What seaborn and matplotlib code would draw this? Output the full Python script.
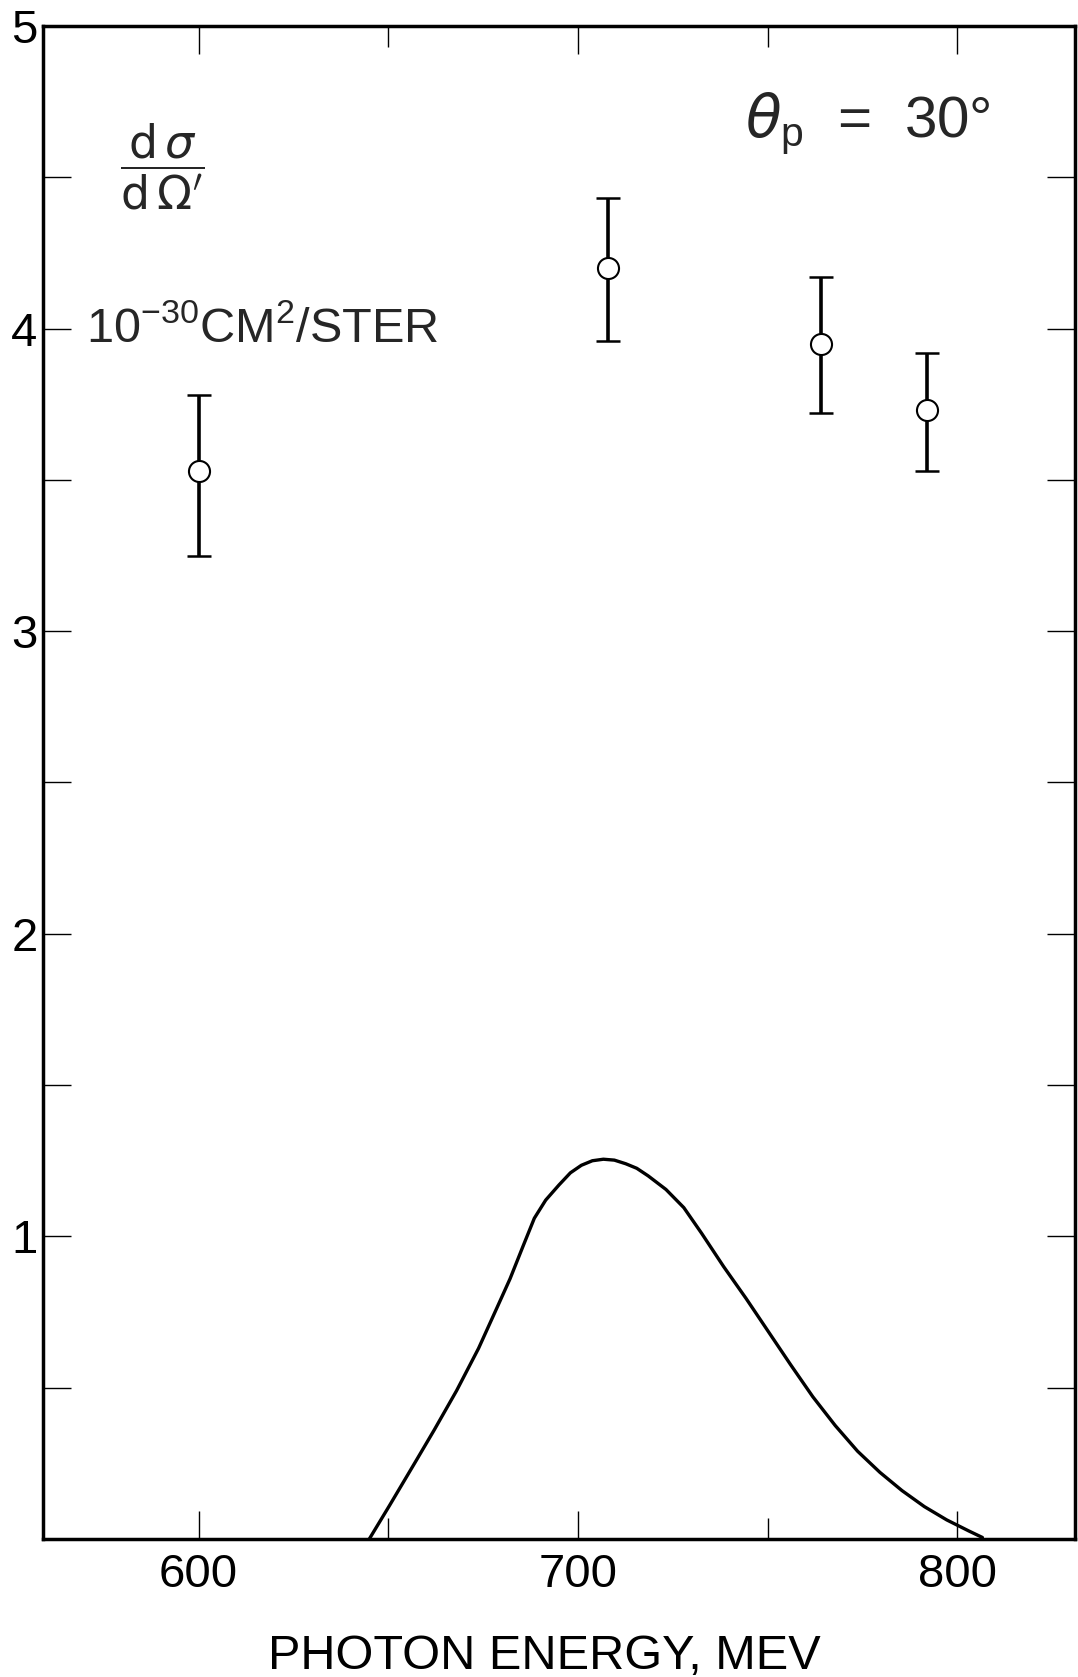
import numpy as np
import pandas as pd
import seaborn as sns
import matplotlib
matplotlib.use("Agg")
import matplotlib.pyplot as plt
from matplotlib.ticker import MultipleLocator, FixedLocator

# measured cross sections (open circles with error bars)
energy_pts = [600, 708, 764, 792]
xsec_pts = [3.53, 4.20, 3.95, 3.73]
xsec_lo = [3.25, 3.96, 3.72, 3.53]
xsec_hi = [3.78, 4.43, 4.17, 3.92]

# resolution / acceptance curve
curve_e = [645.0, 650.3, 657.4, 662.1, 668.0, 673.8, 678.5, 682.1, 685.6, 688.5,
           691.5, 695.0, 698.0, 700.9, 703.8, 706.7, 709.6, 712.6, 715.5, 718.5,
           723.2, 727.9, 732.6, 738.4, 744.3, 750.2, 756.1, 761.9, 767.8, 773.7,
           779.6, 785.4, 791.3, 797.2, 803.1, 806.6]
curve_v = [0.00, 0.11, 0.26, 0.36, 0.49, 0.63, 0.76, 0.86, 0.97, 1.06,
           1.12, 1.17, 1.21, 1.235, 1.25, 1.255, 1.252, 1.24, 1.225, 1.20,
           1.155, 1.095, 1.01, 0.90, 0.795, 0.685, 0.575, 0.47, 0.375, 0.29,
           0.22, 0.16, 0.107, 0.063, 0.026, 0.005]

x_major = [600, 700, 800]
x_minor = [650, 750]
y_major = [1, 2, 3, 4, 5]

sns.set_theme(style="ticks")
plt.rcParams['font.family'] = ['Liberation Sans', 'DejaVu Sans']
plt.rcParams['mathtext.fontset'] = 'dejavusans'

fig = plt.figure(figsize=(10.78, 16.77), dpi=100)
ax = fig.add_axes([0.0399, 0.0823, 0.9573, 0.9022])

pts = pd.DataFrame({'energy': energy_pts, 'xsec': xsec_pts,
                    'lo': xsec_lo, 'hi': xsec_hi})
curve = pd.DataFrame({'energy': curve_e, 'value': curve_v})

sns.lineplot(data=curve, x='energy', y='value', color='black', lw=2.4,
             sort=False, ax=ax)
ax.errorbar(pts['energy'], pts['xsec'],
            yerr=[pts['xsec'] - pts['lo'], pts['hi'] - pts['xsec']],
            fmt='none', ecolor='black', elinewidth=2.6, capsize=8.5, capthick=1.8,
            zorder=3)
sns.scatterplot(data=pts, x='energy', y='xsec', s=230, marker='o',
                facecolor='white', edgecolor='black', linewidth=1.5, zorder=4, ax=ax)

ax.set_xlim(559, 831)
ax.set_ylim(0, 5)

ax.xaxis.set_major_locator(FixedLocator(x_major))
ax.xaxis.set_minor_locator(FixedLocator(x_minor))
ax.yaxis.set_major_locator(FixedLocator(y_major))
ax.yaxis.set_minor_locator(MultipleLocator(0.5))
ax.set_xticks(x_major, labels=[str(v) for v in x_major],
              fontsize=34, fontstretch='condensed')
ax.set_yticks(y_major, labels=[str(v) for v in y_major],
              fontsize=34, fontstretch='condensed')

ax.tick_params(which='both', direction='in', top=True, right=True,
               length=20, width=1.0, color='black', labelcolor='black')
ax.tick_params(axis='x', which='minor', length=15)
ax.tick_params(axis='y', which='major', pad=4)
ax.tick_params(axis='x', which='major', pad=10)

for sp in ax.spines.values():
    sp.set_linewidth(2.5)
    sp.set_color('black')

ax.set_ylabel('')
ax.set_xlabel('PHOTON ENERGY, MEV', fontsize=35, color='black', va='top')
ax.xaxis.set_label_coords(0.4855, -0.0625)

ax.text(0.115, 0.907, r'$\dfrac{\mathrm{d}\,\sigma}{\mathrm{d}\,\Omega^{\prime}}$',
        transform=ax.transAxes, ha='center', va='center', fontsize=33)
ax.text(0.0417, 0.791, r'$\mathregular{10^{-30}CM^{2}/STER}$',
        transform=ax.transAxes, ha='left', va='baseline', fontsize=35)
ax.text(0.680, 0.9266, r'$\theta_{\mathregular{p}}$  =  30°',
        transform=ax.transAxes, ha='left', va='baseline', fontsize=42)

fig.savefig('out.png', dpi=100, facecolor='white')
